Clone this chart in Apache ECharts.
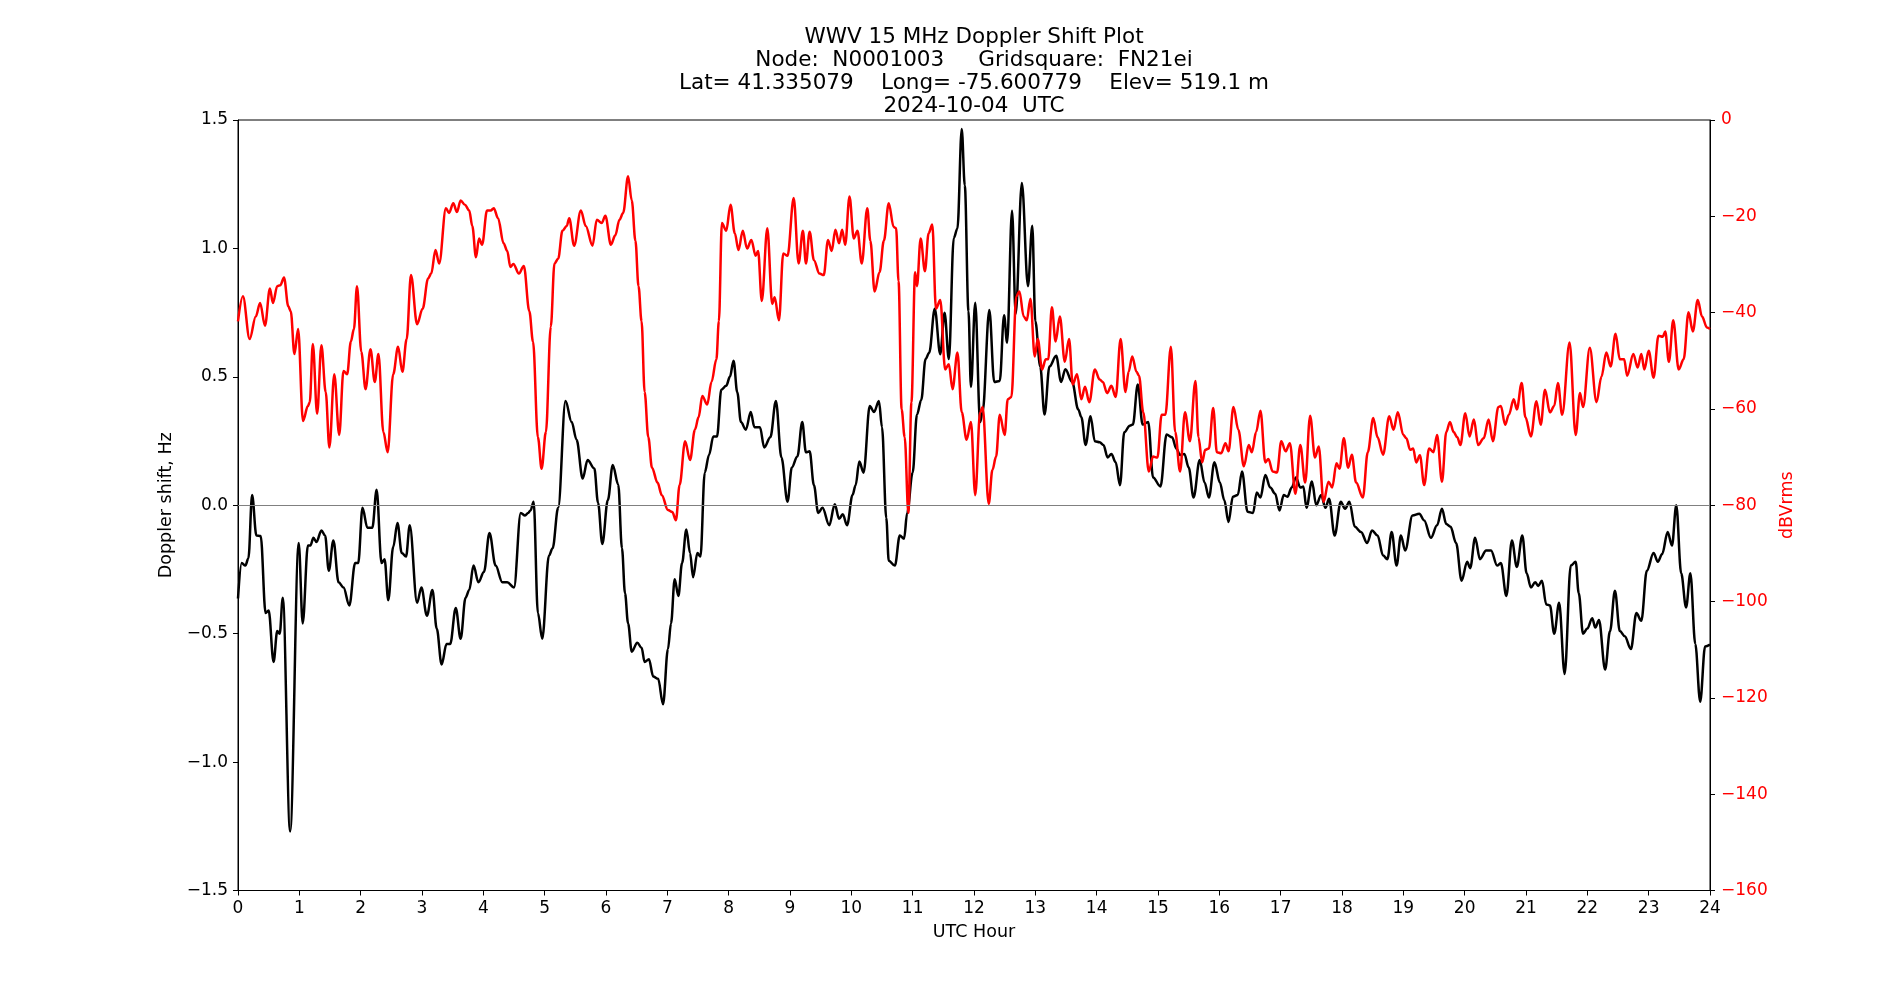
<!DOCTYPE html>
<html>
<head>
<meta charset="utf-8">
<script src="https://cdn.jsdelivr.net/npm/echarts@6/dist/echarts.min.js"></script>
<style>
html,body{margin:0;padding:0;background:#fff;}
#chart{width:1900px;height:1000px;}
</style>
</head>
<body>
<div id="chart"></div>
<script>
// ---- Data ----
const titleLines = [
  'WWV 15 MHz Doppler Shift Plot',
  'Node:  N0001003     Gridsquare:  FN21ei',
  'Lat= 41.335079    Long= -75.600779    Elev= 519.1 m',
  '2024-10-04  UTC'
];
const xAxisName = 'UTC Hour';
const leftAxisName = 'Doppler shift, Hz';
const rightAxisName = 'dBVrms';

const dopplerHours = [
0,0.06,0.12,0.17,0.23,0.30,0.37,0.45,0.50,0.58,0.64,0.68,0.73,0.85,0.99,1.055,1.14,1.18,1.23,1.28,1.36,1.42,1.48,1.555,1.64,1.72,1.815,1.91,1.96,2.03,2.11,2.19,2.26,2.34,2.39,2.45,2.53,2.60,2.67,2.74,2.80,2.92,
2.99,3.08,3.17,3.24,3.32,3.40,3.46,3.55,3.63,3.71,3.77,3.84,3.92,4.01,4.10,4.20,4.31,4.39,4.50,4.61,4.68,4.73,4.77,4.82,4.89,4.96,5.07,5.13,5.22,5.34,5.44,5.52,5.62,5.70,5.81,5.87,5.94,
6.03,6.11,6.20,6.26,6.31,6.36,6.42,6.51,6.58,6.63,6.70,6.77,6.85,6.93,7.01,7.06,7.12,7.18,7.24,7.31,7.37,7.42,7.49,7.54,7.61,7.68,7.75,7.81,7.88,7.96,8.02,8.08,8.14,8.20,8.28,8.36,8.42,8.51,8.58,8.68,8.77,8.86,8.96,
9.03,9.12,9.20,9.26,9.32,9.39,9.46,9.53,9.64,9.73,9.80,9.86,9.93,10.02,10.07,10.13,10.20,10.30,10.37,10.45,10.50,10.57,10.61,10.71,10.79,10.86,10.91,11.00,11.07,11.14,11.21,11.27,11.36,11.45,11.52,11.59,11.67,11.73,11.80,11.85,11.91,11.95,
12.02,12.10,12.14,12.25,12.33,12.42,12.49,12.54,12.62,12.68,12.78,12.88,12.95,13.00,13.08,13.15,13.23,13.34,13.42,13.49,13.60,13.70,13.75,13.82,13.90,13.97,14.05,14.11,14.18,14.24,14.31,14.38,14.45,14.54,14.59,14.67,14.75,14.84,14.92,
15.04,15.14,15.23,15.30,15.36,15.43,15.50,15.58,15.68,15.76,15.83,15.92,16.01,16.08,16.15,16.22,16.30,16.37,16.46,16.55,16.61,16.67,16.75,16.83,16.91,16.98,17.05,17.11,17.18,17.25,17.32,17.37,17.42,17.51,17.58,17.66,17.73,17.79,17.88,
17.98,18.05,18.12,18.21,18.31,18.41,18.49,18.58,18.67,18.74,18.81,18.89,18.96,19.03,19.15,19.26,19.34,19.45,19.55,19.63,19.70,19.77,19.86,19.95,20.04,20.09,20.17,20.25,20.35,20.43,20.53,20.59,20.68,20.77,20.85,20.94,
21.01,21.08,21.15,21.20,21.26,21.33,21.39,21.46,21.54,21.63,21.73,21.81,21.86,21.93,22.00,22.08,22.13,22.19,22.29,22.37,22.45,22.53,22.61,22.71,22.80,22.88,22.97,23.08,23.15,23.22,23.31,23.38,23.45,23.53,23.61,23.68,23.76,23.84,23.92,24.0
];
const dopplerValues = [
-0.363,-0.225,-0.235,-0.206,0.04,-0.118,-0.12,-0.42,-0.41,-0.61,-0.49,-0.50,-0.36,-1.27,-0.147,-0.46,-0.157,-0.157,-0.127,-0.143,-0.098,-0.118,-0.255,-0.137,-0.30,-0.32,-0.39,-0.225,-0.225,-0.01,-0.088,-0.088,0.06,-0.225,-0.21,-0.37,-0.163,-0.069,-0.186,-0.20,-0.078,-0.38,
-0.32,-0.43,-0.33,-0.48,-0.62,-0.54,-0.54,-0.40,-0.52,-0.36,-0.33,-0.235,-0.30,-0.26,-0.108,-0.235,-0.30,-0.30,-0.32,-0.03,-0.04,-0.03,-0.02,0.014,-0.42,-0.52,-0.196,-0.167,-0.01,0.406,0.324,0.255,0.104,0.176,0.143,0.01,-0.151,
0.02,0.157,0.08,-0.167,-0.343,-0.46,-0.57,-0.535,-0.555,-0.61,-0.60,-0.667,-0.676,-0.775,-0.56,-0.46,-0.288,-0.353,-0.225,-0.094,-0.186,-0.28,-0.186,-0.20,0.127,0.196,0.268,0.268,0.45,0.465,0.50,0.563,0.44,0.324,0.294,0.363,0.304,0.304,0.225,0.265,0.406,0.186,0.014,
0.147,0.19,0.324,0.206,0.21,0.078,-0.03,-0.01,-0.078,0.004,-0.053,-0.035,-0.078,0.04,0.078,0.17,0.127,0.386,0.363,0.406,0.304,-0.05,-0.216,-0.235,-0.118,-0.13,-0.03,0.127,0.353,0.41,0.569,0.594,0.765,0.588,0.75,0.569,1.04,1.078,1.465,1.245,0.755,0.46,
0.788,0.324,0.363,0.76,0.48,0.484,0.74,0.633,1.147,0.745,1.255,0.853,1.088,0.716,0.54,0.353,0.54,0.582,0.48,0.53,0.48,0.373,0.343,0.235,0.347,0.249,0.245,0.235,0.186,0.2,0.167,0.078,0.284,0.31,0.314,0.47,0.314,0.324,0.108,
0.073,0.275,0.265,0.22,0.196,0.2,0.147,0.03,0.176,0.088,0.03,0.167,0.088,0.02,-0.065,0.033,0.04,0.131,-0.025,-0.03,0.05,0.03,0.118,0.069,0.045,-0.02,0.04,0.033,0.069,0.108,0.069,0.073,-0.01,0.092,0.0,0.04,-0.01,0.025,-0.118,
0.014,-0.014,0.014,-0.084,-0.104,-0.147,-0.098,-0.118,-0.196,-0.21,-0.104,-0.235,-0.118,-0.176,-0.04,-0.033,-0.059,-0.127,-0.078,-0.014,-0.073,-0.084,-0.147,-0.294,-0.22,-0.245,-0.127,-0.21,-0.176,-0.176,-0.235,-0.225,-0.353,-0.137,-0.24,-0.118,
-0.265,-0.32,-0.30,-0.314,-0.294,-0.386,-0.39,-0.5,-0.38,-0.657,-0.235,-0.22,-0.343,-0.5,-0.48,-0.44,-0.476,-0.447,-0.64,-0.49,-0.333,-0.49,-0.51,-0.56,-0.42,-0.45,-0.255,-0.186,-0.22,-0.19,-0.104,-0.157,0.0,-0.265,-0.398,-0.265,-0.54,-0.765,-0.55,-0.543
];

const powerHours = [
0,0.08,0.19,0.29,0.36,0.44,0.52,0.57,0.64,0.69,0.75,0.82,0.86,0.92,0.98,1.06,1.14,1.17,1.22,1.29,1.36,1.43,1.49,1.57,1.65,1.72,1.78,1.84,1.89,1.94,2.01,2.08,2.16,2.23,2.29,2.37,2.44,2.53,2.61,2.68,2.75,2.82,2.92,
3.01,3.10,3.15,3.22,3.28,3.39,3.44,3.51,3.57,3.63,3.70,3.77,3.82,3.88,3.93,3.98,4.06,4.12,4.17,4.24,4.33,4.39,4.44,4.49,4.58,4.66,4.75,4.81,4.89,4.95,5.02,5.10,5.16,5.22,5.29,5.36,5.40,5.48,5.59,5.67,5.78,5.85,5.93,
5.99,6.08,6.15,6.22,6.28,6.36,6.42,6.48,6.53,6.58,6.63,6.69,6.75,6.84,6.91,7.01,7.08,7.14,7.20,7.29,7.37,7.45,7.51,7.57,7.65,7.72,7.80,7.84,7.89,7.96,8.03,8.10,8.16,8.23,8.30,8.37,8.44,8.48,8.54,8.63,8.71,8.75,8.82,8.89,8.96,
9.06,9.14,9.21,9.26,9.32,9.39,9.48,9.55,9.62,9.68,9.74,9.80,9.85,9.90,9.97,10.04,10.10,10.17,10.26,10.31,10.38,10.46,10.53,10.61,10.69,10.73,10.77,10.82,10.87,10.93,10.98,11.04,11.07,11.13,11.20,11.26,11.32,11.38,11.45,11.53,11.59,11.65,11.73,11.80,11.88,11.95,
12.02,12.10,12.14,12.24,12.30,12.36,12.42,12.50,12.55,12.61,12.69,12.74,12.81,12.86,12.92,12.99,13.04,13.11,13.17,13.21,13.27,13.33,13.40,13.48,13.55,13.61,13.68,13.75,13.81,13.88,13.97,14.05,14.10,14.17,14.24,14.31,14.39,14.47,14.52,14.58,14.65,14.69,14.76,14.85,14.92,14.99,
15.06,15.12,15.21,15.28,15.36,15.44,15.52,15.61,15.66,15.72,15.77,15.83,15.90,15.96,16.03,16.10,16.15,16.23,16.31,16.40,16.48,16.53,16.60,16.67,16.75,16.80,16.87,16.94,17.01,17.08,17.15,17.24,17.32,17.40,17.48,17.56,17.62,17.70,17.78,17.84,17.91,17.96,
18.03,18.10,18.16,18.23,18.34,18.42,18.51,18.58,18.67,18.77,18.84,18.91,19.00,19.05,19.11,19.16,19.21,19.27,19.34,19.42,19.49,19.55,19.63,19.70,19.76,19.82,19.88,19.93,20.01,20.08,20.15,20.22,20.31,20.39,20.46,20.55,20.59,20.66,20.72,20.80,20.85,20.93,
20.99,21.08,21.17,21.24,21.31,21.39,21.46,21.52,21.59,21.71,21.81,21.88,21.93,22.04,22.15,22.23,22.31,22.38,22.46,22.53,22.60,22.65,22.75,22.82,22.88,22.93,23.00,23.08,23.16,23.23,23.27,23.33,23.40,23.49,23.57,23.65,23.72,23.80,23.87,23.95,24.0
];
const powerValues = [
-41.8,-36.6,-45.5,-40.8,-38.0,-42.7,-35.0,-38.0,-34.5,-34.3,-32.7,-38.7,-39.7,-48.6,-43.4,-62.5,-59.4,-58.6,-46.5,-61.0,-46.8,-56.5,-68.0,-52.8,-65.4,-52.1,-52.8,-46.0,-43.4,-34.5,-48.1,-55.9,-47.6,-54.4,-48.6,-64.8,-69.0,-52.8,-47.1,-52.3,-45.5,-32.2,-42.4,
-39.2,-32.9,-31.9,-27.0,-29.8,-18.3,-19.3,-17.3,-19.1,-16.7,-17.6,-18.8,-22.0,-28.5,-24.6,-25.9,-18.8,-18.8,-18.3,-20.4,-25.6,-27.2,-30.5,-29.9,-31.9,-30.3,-39.7,-46.0,-65.9,-72.4,-64.8,-42.9,-29.8,-28.8,-23.0,-22.0,-20.4,-26.1,-18.8,-22.0,-26.1,-20.7,-21.4,
-19.9,-25.9,-24.0,-20.7,-19.3,-11.7,-16.7,-25.1,-34.5,-41.8,-56.5,-65.9,-72.2,-75.3,-77.9,-81.0,-81.4,-83.1,-75.8,-66.7,-70.6,-64.3,-61.7,-57.3,-59.1,-54.4,-49.7,-41.8,-21.4,-23.0,-17.6,-23.5,-27.0,-23.0,-26.7,-24.9,-28.2,-27.2,-37.6,-22.5,-38.2,-36.8,-41.6,-27.7,-28.2,
-16.2,-29.8,-23.0,-29.8,-23.2,-29.1,-31.9,-32.2,-24.9,-27.2,-22.8,-25.6,-22.8,-25.9,-15.9,-24.6,-23.0,-29.8,-18.3,-25.1,-35.6,-31.6,-25.1,-17.3,-22.2,-22.5,-33.5,-60.1,-65.9,-81.6,-58.6,-31.6,-34.5,-24.6,-31.4,-23.5,-21.7,-39.2,-37.4,-51.8,-50.7,-55.9,-48.3,-60.7,-66.4,-62.7,
-77.9,-60.7,-59.6,-79.7,-72.7,-69.9,-61.2,-65.4,-58.0,-57.5,-36.6,-35.6,-40.8,-41.6,-37.1,-49.1,-45.5,-51.8,-49.7,-49.7,-38.9,-46.0,-40.8,-50.2,-45.5,-54.9,-52.8,-58.0,-55.4,-58.6,-51.8,-53.9,-54.4,-56.7,-55.2,-57.5,-45.5,-56.5,-52.3,-49.1,-52.3,-53.1,-60.7,-73.0,-69.9,-70.1,
-61.2,-61.2,-47.1,-64.8,-73.0,-60.7,-66.7,-54.2,-65.9,-71.1,-68.5,-68.2,-59.8,-69.0,-69.2,-67.1,-68.8,-59.6,-64.3,-71.9,-67.5,-69.0,-64.8,-60.4,-71.1,-70.4,-73.0,-73.2,-66.7,-68.8,-67.1,-77.6,-67.5,-75.3,-61.4,-70.1,-67.8,-79.3,-75.1,-76.3,-71.3,-72.4,
-66.1,-72.2,-69.5,-75.3,-78.4,-69.0,-61.9,-65.9,-69.5,-61.5,-64.3,-60.7,-65.4,-66.1,-68.5,-68.2,-71.1,-69.6,-75.8,-68.2,-69.0,-65.4,-75.1,-64.8,-62.7,-64.8,-65.9,-67.5,-60.9,-65.7,-62.2,-67.5,-66.1,-62.2,-66.7,-59.6,-59.4,-63.3,-61.2,-58.0,-60.1,-54.6,
-61.7,-65.7,-58.4,-63.3,-56.0,-60.7,-59.4,-54.6,-61.2,-46.2,-65.4,-56.7,-59.6,-47.3,-58.6,-53.3,-48.3,-51.2,-44.4,-49.7,-49.7,-53.1,-48.6,-51.4,-48.6,-51.8,-47.9,-53.5,-44.8,-45.0,-43.9,-50.2,-41.6,-51.8,-49.7,-39.9,-43.9,-37.4,-40.8,-43.1,-43.4
];

// ---- Chart ----
const FONT = '"DejaVu Sans", "Liberation Sans", sans-serif';
const minus = s => String(s).replace('-', '\u2212');
const dopplerData = dopplerHours.map((h, i) => [h, dopplerValues[i]]);
const powerData = powerHours.map((h, i) => [h, powerValues[i]]);

const TICK_FS = 17;
const NAME_FS = 17.5;

const chart = echarts.init(document.getElementById('chart'), null, {renderer: 'canvas'});
chart.setOption({
  animation: false,
  backgroundColor: '#ffffff',
  title: {
    text: titleLines.join('\n'),
    left: 974,
    top: 25.5,
    padding: 0,
    textAlign: 'center',
    textStyle: {
      fontFamily: FONT, fontSize: 21.5, fontWeight: 'normal', color: '#000', lineHeight: 23
    }
  },
  grid: {
    left: 238, right: 190, top: 120, bottom: 109.5,
    show: true, borderColor: '#000', borderWidth: 1, backgroundColor: 'transparent',
    containLabel: false
  },
  xAxis: {
    type: 'value', min: 0, max: 24, interval: 1,
    name: xAxisName, nameLocation: 'middle', nameGap: 33,
    nameTextStyle: {fontFamily: FONT, fontSize: NAME_FS, color: '#000'},
    axisLine: {show: true, onZero: false, lineStyle: {color: '#000', width: 1}},
    axisTick: {show: true, length: 5, lineStyle: {color: '#000', width: 1}},
    axisLabel: {fontFamily: FONT, fontSize: TICK_FS, color: '#000', margin: 10},
    splitLine: {show: false}
  },
  yAxis: [
    {
      type: 'value', min: -1.5, max: 1.5, interval: 0.5, position: 'left',
      name: leftAxisName, nameLocation: 'middle', nameGap: 57.5, nameRotate: 90,
      nameTextStyle: {fontFamily: FONT, fontSize: NAME_FS, color: '#000'},
      axisLine: {show: true, onZero: false, lineStyle: {color: '#000', width: 1}},
      axisTick: {show: true, length: 5, lineStyle: {color: '#000', width: 1}},
      axisLabel: {fontFamily: FONT, fontSize: TICK_FS, color: '#000', margin: 10,
        formatter: v => minus(v.toFixed(1))},
      splitLine: {show: false}
    },
    {
      type: 'value', min: -160, max: 0, interval: 20, position: 'right',
      name: rightAxisName, nameLocation: 'middle', nameGap: 60, nameRotate: 90,
      nameTextStyle: {fontFamily: FONT, fontSize: NAME_FS, color: '#ff0000'},
      axisLine: {show: true, onZero: false, lineStyle: {color: '#000', width: 1}},
      axisTick: {show: true, length: 5, lineStyle: {color: '#000', width: 1}},
      axisLabel: {fontFamily: FONT, fontSize: TICK_FS, color: '#ff0000', margin: 11,
        formatter: v => minus(String(v))},
      splitLine: {show: false}
    }
  ],
  series: [
    {
      name: 'Doppler', type: 'line', yAxisIndex: 0, data: dopplerData,
      showSymbol: false, smooth: 0.35, smoothMonotone: 'x',
      lineStyle: {color: '#000', width: 2.5},
      z: 2,
      markLine: {
        silent: true, symbol: 'none', animation: false,
        label: {show: false},
        lineStyle: {color: '#808080', width: 1, type: 'solid'},
        data: [{yAxis: 0}]
      }
    },
    {
      name: 'Power', type: 'line', yAxisIndex: 1, data: powerData,
      showSymbol: false, smooth: 0.35, smoothMonotone: 'x',
      lineStyle: {color: '#ff0000', width: 2.5},
      z: 3
    }
  ]
});
</script>
</body>
</html>
